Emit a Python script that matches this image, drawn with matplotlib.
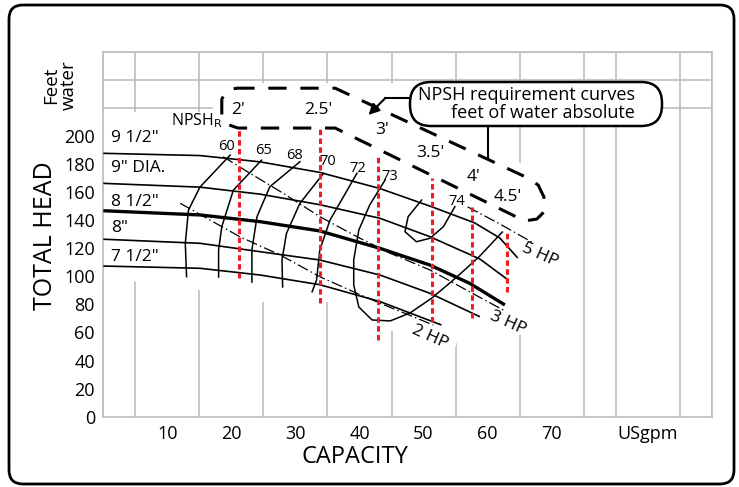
import numpy as np
import matplotlib
matplotlib.use("Agg")
import matplotlib.pyplot as plt
from matplotlib.patches import FancyBboxPatch, Polygon
from matplotlib.transforms import IdentityTransform

plt.rcParams['font.family'] = ['Open Sans', 'DejaVu Sans']

# -- impeller head curves: capacity (USgpm) / total head (ft) --
imp_names = ['9 1/2"', '9" DIA.', '8 1/2"', '8"', '7 1/2"']
imp_label_y = [198.2, 176.9, 153.1, 134.2, 114.0]
q_950 = [0, 15.1, 24.5, 33.8, 43.2, 51.3, 58.0, 61.9, 64.7]
h_950 = [187.6, 186.0, 181.5, 174.0, 162.5, 149.5, 138.0, 127.3, 113.1]
q_900 = [0, 15.1, 24.5, 33.8, 43.2, 51.0, 58.8, 63.0]
h_900 = [166.2, 163.5, 158.5, 151.0, 141.3, 128.2, 112.3, 98.1]
q_850 = [0, 15.1, 24.5, 33.8, 43.2, 51.0, 57.2, 62.7]
h_850 = [146.7, 143.7, 138.9, 132.3, 119.9, 108.0, 95.0, 79.6]
q_800 = [0, 15.1, 24.5, 33.8, 43.2, 51.0, 58.8]
h_800 = [126.4, 123.5, 117.5, 111.6, 100.9, 87.9, 71.2]
q_750 = [0, 15.1, 24.5, 33.8, 43.2, 52.8]
h_750 = [107.3, 105.7, 100.9, 94.0, 82.0, 65.3]

# -- efficiency curves (%) --
eff_names = ['60', '65', '68', '70', '72', '73', '74']
eff_label_q = [19.2, 25.0, 29.9, 35.1, 39.8, 44.8, 55.2]
eff_label_h = [192.7, 189.5, 185.7, 181.6, 176.9, 170.9, 153.1]
q_e60 = [19.8, 15.1, 13.3, 12.8, 13.0]
h_e60 = [186.3, 163.6, 147.2, 123.5, 99.7]
q_e65 = [24.7, 20.3, 18.5, 18.0, 18.0]
h_e65 = [182.7, 161.3, 135.3, 118.7, 99.5]
q_e68 = [30.7, 26.0, 24.0, 23.2, 23.2]
h_e68 = [181.6, 163.8, 142.5, 118.7, 95.9]
q_e70 = [34.4, 30.7, 28.6, 27.9, 28.0]
h_e70 = [173.4, 152.0, 130.6, 111.6, 92.4]
q_e72 = [39.6, 37.5, 35.4, 33.8, 33.3, 32.6]
h_e72 = [173.4, 156.7, 140.1, 118.7, 97.4, 89.0]
q_e73 = [44.0, 41.6, 39.9, 39.1, 39.1, 39.9, 41.96, 44.8, 47.9, 51.3, 55.2, 58.8, 62.3]
h_e73 = [168.6, 150.8, 133.0, 111.7, 93.8, 78.1, 68.9, 68.2, 73.9, 84.5, 99.5, 114.5, 131.5]
q_e74 = [49.7, 47.6, 47.1, 48.9, 51.0, 53.1, 54.9]
h_e74 = [154.3, 142.5, 131.8, 124.6, 127.1, 135.3, 149.6]

# -- horsepower lines --
hp_names = ['2 HP', '3 HP', '5 HP']
hp_label_q = [51.0, 63.2, 68.2]
hp_label_h = [57.0, 66.5, 115.0]
q_hp2 = [12.0, 21.3, 27.6, 33.8, 39.6, 43.2, 48.4, 51.5]
h_hp2 = [152.0, 128.2, 115.2, 99.7, 87.9, 80.8, 71.2, 65.3]
q_hp3 = [18.7, 22.9, 28.1, 33.8, 39.6, 44.8, 51.0, 56.7, 62.7]
h_hp3 = [185.2, 173.4, 159.1, 142.5, 128.2, 116.4, 104.5, 90.2, 75.3]
q_hp5 = [56.9, 61.9, 66.9]
h_hp5 = [149.4, 137.3, 124.4]

# -- NPSH required (ft) --
npsh_names = ["2'", "2.5'", "3'", "3.5'", "4'", "4.5'"]
npsh_q = [21.2, 33.8, 42.9, 51.3, 57.5, 63.0]
npsh_top = [205.4, 205.4, 186.4, 169.8, 149.6, 133.0]
npsh_bot = [98.6, 80.8, 54.6, 67.7, 70.1, 89.0]
npsh_label_q = [21.1, 33.6, 43.5, 51.0, 57.8, 63.2]
npsh_label_h = [218.4, 218.4, 204.2, 187.6, 170.9, 156.7]

x_ticks = [10, 20, 30, 40, 50, 60, 70, 85]
x_ticklabels = ['10', '20', '30', '40', '50', '60', '70', 'USgpm']
y_ticks = list(range(0, 201, 20))

fig = plt.figure(figsize=(7.39, 4.87), dpi=100)
ax = fig.add_axes([0.1398, 0.1444, 0.8233, 0.7495])
ax.set_xlim(0, 95)
ax.set_ylim(0, 260)

# grid
gray = '#bdbdbd'
ax.set_xticks(np.arange(0, 96, 5), minor=True)
ax.set_yticks(np.arange(0, 261, 20), minor=True)
ax.set_xticks(x_ticks)
ax.set_xticklabels(x_ticklabels, fontsize=13)
ax.set_yticks(y_ticks)
ax.set_yticklabels([str(v) for v in y_ticks], fontsize=13)
ax.tick_params(which='both', length=0, pad=6)
ax.grid(which='minor', color=gray, lw=1.2)
ax.set_axisbelow(True)
for s in ax.spines.values():
    s.set_color(gray)
    s.set_linewidth(1.2)

# white area behind the curves (hides grid)
mask = [(0, 217.0), (17.1, 217.0), (17.1, 237.6), (38.5, 237.6), (47.1, 237.6),
        (58.8, 211.3), (60.1, 199.2), (65.1, 180.7), (70.2, 160.0), (69.9, 136.5),
        (73.2, 129.4), (73.2, 113.7), (68.4, 105.9), (68.4, 70.3), (66.6, 57.5),
        (60.4, 61.0), (55.4, 56.1), (54.5, 42.6), (46.0, 42.6), (45.2, 61.0),
        (38.2, 61.0), (37.7, 81.7), (16.7, 81.7), (15.1, 90.2), (10.1, 92.3),
        (7.3, 95.9), (0, 97.4)]
ax.add_patch(Polygon(mask, closed=True, fc='white', ec='none', zorder=1))

# impeller curves
imp_q = [q_950, q_900, q_850, q_800, q_750]
imp_h = [h_950, h_900, h_850, h_800, h_750]
for i, name in enumerate(imp_names):
    lw = 2.4 if name == '8 1/2"' else 1.2
    ax.plot(imp_q[i], imp_h[i], color='black', lw=lw, zorder=3, solid_capstyle='butt')
    ax.text(1.2, imp_label_y[i], name, fontsize=12.5, ha='left', va='center', zorder=4)

# efficiency curves
eff_q = [q_e60, q_e65, q_e68, q_e70, q_e72, q_e73, q_e74]
eff_h = [h_e60, h_e65, h_e68, h_e70, h_e72, h_e73, h_e74]
for i, name in enumerate(eff_names):
    ax.plot(eff_q[i], eff_h[i], color='black', lw=1.1, zorder=3)
    ax.text(eff_label_q[i], eff_label_h[i], name, fontsize=10.5, ha='center', va='center', zorder=4)

# horsepower lines
hp_q = [q_hp2, q_hp3, q_hp5]
hp_h = [h_hp2, h_hp3, h_hp5]
for i, name in enumerate(hp_names):
    ax.plot(hp_q[i], hp_h[i], color='black', lw=0.9, ls=(0, (9, 2.5, 1.2, 2.5)), zorder=3)
    ax.text(hp_label_q[i], hp_label_h[i], name, fontsize=12.5, ha='center', va='center',
            rotation=-24, rotation_mode='anchor', zorder=4)

# NPSH lines
for i, name in enumerate(npsh_names):
    ax.plot([npsh_q[i], npsh_q[i]], [npsh_bot[i], npsh_top[i]], color='#ee1c24',
            lw=2.2, ls=(0, (1.8, 1.1)), zorder=3.5)
    ax.text(npsh_label_q[i], npsh_label_h[i], name, fontsize=12.5, ha='center', va='center', zorder=4)

ax.text(18.6, 211.2, r'NPSH$_\mathrm{R}$', fontsize=11.5, ha='right', va='center', zorder=4)

# dashed outline round NPSH labels
band = [(20.75, 234.0), (36.2, 234.0), (66.3, 170.0), (67.9, 165.0), (68.8, 156.5),
        (68.8, 145.8), (67.7, 140.8), (65.8, 139.4), (36.2, 205.6), (21.0, 205.6),
        (19.2, 208.5), (18.5, 214.9), (18.5, 226.3), (19.3, 232.0), (20.75, 234.0)]
bx, by = zip(*band)
ax.plot(bx, by, color='black', lw=2.2, ls=(0, (6, 4.5)), zorder=4)

# callout
ax.add_patch(FancyBboxPatch((410, 361), 252, 44, boxstyle='round,pad=0,rounding_size=21',
                            transform=IdentityTransform(), fc='white', ec='black',
                            lw=1.8, zorder=5))
ax.text(83.0, 222.7, 'NPSH requirement curves\nfeet of water absolute', fontsize=13,
        ha='right', va='center', multialignment='right', linespacing=0.95, zorder=6)
ax.plot([47.9, 44.0], [226.8, 226.8], color='black', lw=1.5, zorder=5)
ax.annotate('', xy=(41.4, 214.9), xytext=(44.0, 226.8),
            arrowprops=dict(arrowstyle='-|>', lw=1.5, color='black', mutation_scale=16,
                            shrinkA=0, shrinkB=0), zorder=5)
ax.plot([60.1, 60.1], [207.0, 185.0], color='black', lw=1.5, zorder=5)

# axis titles
fig.text(0.0812, 0.8255, 'Feet\nwater', rotation=90, ha='center', va='center',
         fontsize=13.5, linespacing=1.0)
fig.text(0.0609, 0.5154, 'TOTAL HEAD', rotation=90, ha='center', va='center', fontsize=18)
fig.text(0.4804, 0.0622, 'CAPACITY', ha='center', va='center', fontsize=17)

# outer frame
fig.patches.append(FancyBboxPatch((9, 3), 725, 479, boxstyle='round,pad=0,rounding_size=14',
                                  transform=IdentityTransform(), fc='none', ec='black',
                                  lw=2, figure=fig))

fig.savefig('out.png', dpi=100)
